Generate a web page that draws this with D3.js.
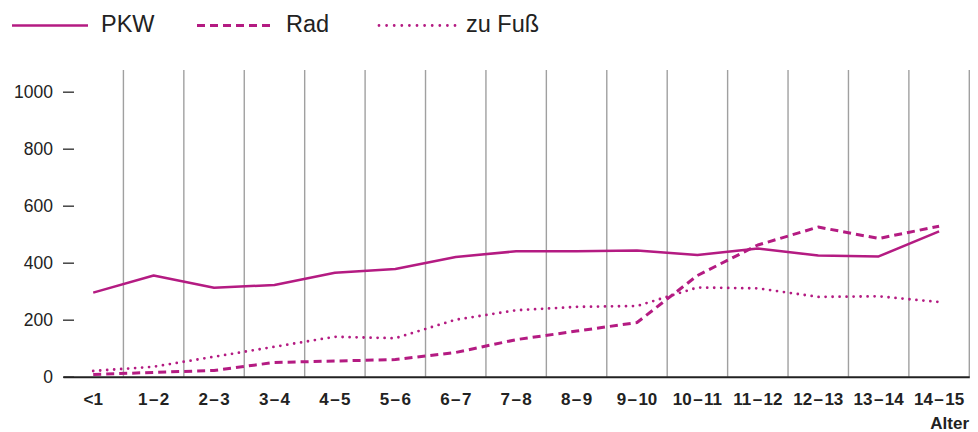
<!DOCTYPE html>
<html><head><meta charset="utf-8">
<script src="https://cdn.jsdelivr.net/npm/d3@7"></script>
<style>body{margin:0;background:#fff}svg{display:block}text{font-family:"Liberation Sans",Arial,sans-serif}</style>
</head><body><svg id="c" width="978" height="432"></svg>
<script>
const categories = ["<1","1\u200A\u2013\u200A2","2\u200A\u2013\u200A3","3\u200A\u2013\u200A4","4\u200A\u2013\u200A5","5\u200A\u2013\u200A6","6\u200A\u2013\u200A7","7\u200A\u2013\u200A8","8\u200A\u2013\u200A9","9\u200A\u2013\u200A10","10\u200A\u2013\u200A11","11\u200A\u2013\u200A12","12\u200A\u2013\u200A13","13\u200A\u2013\u200A14","14\u200A\u2013\u200A15"];
const pkw  = [295,355,312,322,365,378,420,440,440,443,427,450,425,422,510];
const rad  = [8,15,22,50,55,60,85,130,160,190,355,462,525,485,528];
const fuss = [20,35,70,105,140,135,200,233,245,248,313,310,280,282,262];
const yTicks = [0,200,400,600,800,1000];
const seriesNames = ["PKW","Rad","zu Fu\u00df"];

const color = "#b41b82";
const svg = d3.select("#c");
const x = d3.scaleBand().domain(categories).range([63, 969.3]);
const y = d3.scaleLinear().domain([0,1000]).range([376.7, 91.7]);

// vertical grid lines
svg.append("g").selectAll("line").data(categories).join("line")
  .attr("x1", d => x(d) + x.bandwidth()).attr("x2", d => x(d) + x.bandwidth())
  .attr("y1", 70).attr("y2", y(0))
  .attr("stroke", "#a0a0a0").attr("stroke-width", 1.4);

// y axis
const yAxis = svg.append("g").attr("transform","translate(74,0)")
  .call(d3.axisLeft(y).tickValues(yTicks).tickSize(11).tickPadding(10).tickFormat(d3.format("d")));
yAxis.select(".domain").remove();
yAxis.selectAll(".tick line").attr("stroke","#444").attr("stroke-width",1.5);
yAxis.selectAll(".tick text").attr("font-size",17.5).attr("fill","#222")
  .attr("font-family","'Liberation Sans',Arial,sans-serif");

// x axis
const xAxis = svg.append("g").attr("transform",`translate(0,${y(0)})`)
  .call(d3.axisBottom(x).tickSize(0).tickPadding(16));
xAxis.select(".domain").attr("stroke","#222").attr("stroke-width",2);
xAxis.selectAll(".tick text").attr("font-size",17).attr("font-weight","bold").attr("fill","#222")
  .attr("font-family","'Liberation Sans',Arial,sans-serif");

svg.append("text").attr("x",969).attr("y",428.5).attr("text-anchor","end")
  .attr("font-size",17).attr("font-weight","bold").attr("fill","#222").text("Alter");

const line = d3.line().x((d,i) => x(categories[i]) + x.bandwidth()/2).y(d => y(d));
const styles = [
  {data: pkw, dash: null, w: 2.5, cap: "butt"},
  {data: rad, dash: "8,5", w: 3, cap: "butt"},
  {data: fuss, dash: "0,7", w: 2.8, cap: "round"}
];
styles.forEach(s => {
  svg.append("path").datum(s.data).attr("d", line).attr("fill","none")
    .attr("stroke", color).attr("stroke-width", s.w).attr("stroke-linecap", s.cap)
    .attr("stroke-linejoin","round").attr("stroke-dasharray", s.dash);
});

// legend
const legendX = [{x1:12,x2:88,tx:101},{x1:197,x2:272,tx:286},{x1:379,x2:456,tx:466}];
seriesNames.forEach((n,i) => {
  const L = legendX[i], s = styles[i];
  svg.append("line").attr("x1",L.x1).attr("x2",L.x2).attr("y1",25.5).attr("y2",25.5)
    .attr("stroke",color).attr("stroke-width",s.w).attr("stroke-linecap",s.cap)
    .attr("stroke-dasharray", i===2 ? "0,7.6" : s.dash);
  svg.append("text").attr("x",L.tx).attr("y",31.5).attr("font-size",23.5).attr("fill","#222").text(n);
});
</script></body></html>
